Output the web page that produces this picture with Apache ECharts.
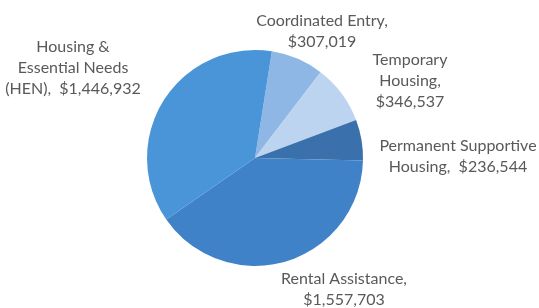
<!DOCTYPE html>
<html>
<head>
<meta charset="utf-8">
<script src="https://cdn.jsdelivr.net/npm/echarts@6/dist/echarts.min.js"></script>
<style>
  html, body { margin: 0; padding: 0; background: #fff; }
  #chart { width: 539px; height: 308px; }
</style>
</head>
<body>
<div id="chart"></div>
<script>
// Funding by program, in dollars.
const programs = ['Coordinated Entry', 'Temporary Housing', 'Permanent Supportive Housing', 'Rental Assistance', 'Housing & Essential Needs (HEN)'];
const amounts = [307019, 346537, 236544, 1557703, 1446932];
const labelTexts = [
    'Coordinated Entry,\n$307,019',
    'Temporary\nHousing,\n$346,537',
    'Permanent Supportive\nHousing,  $236,544',
    'Rental Assistance,\n$1,557,703',
    'Housing &\nEssential Needs\n(HEN),  $1,446,932'
];
const sliceColors = ['#8fb7e6', '#bcd4f0', '#3a70ab', '#3f82c8', '#4a94d8'];

// Where Excel put each label (centre of the text block).
const labelSpots = [[322, 31], [410, 81], [458, 156], [344, 289], [73, 68]];

const chart = echarts.init(document.getElementById('chart'));

chart.setOption({
    animation: false,
    series: [{
        type: 'pie',
        center: [255, 158],
        radius: 108,
        startAngle: 81,
        clockwise: true,
        data: programs.map((name, i) => ({
            name: name,
            value: amounts[i],
            itemStyle: {color: sliceColors[i]},
            label: {formatter: labelTexts[i]}
        })),
        itemStyle: {borderWidth: 0},
        label: {
            show: true,
            position: 'outside',
            color: '#595959',
            fontFamily: 'Lato',
            fontSize: 16,
            lineHeight: 21,
            align: 'center',
            overflow: 'none'
        },
        labelLine: {show: false},
        labelLayout: (params) => {
            const spot = labelSpots[params.dataIndex];
            return {
                x: spot[0],
                y: spot[1],
                align: 'center',
                verticalAlign: 'middle'
            };
        }
    }]
});
</script>
</body>
</html>
